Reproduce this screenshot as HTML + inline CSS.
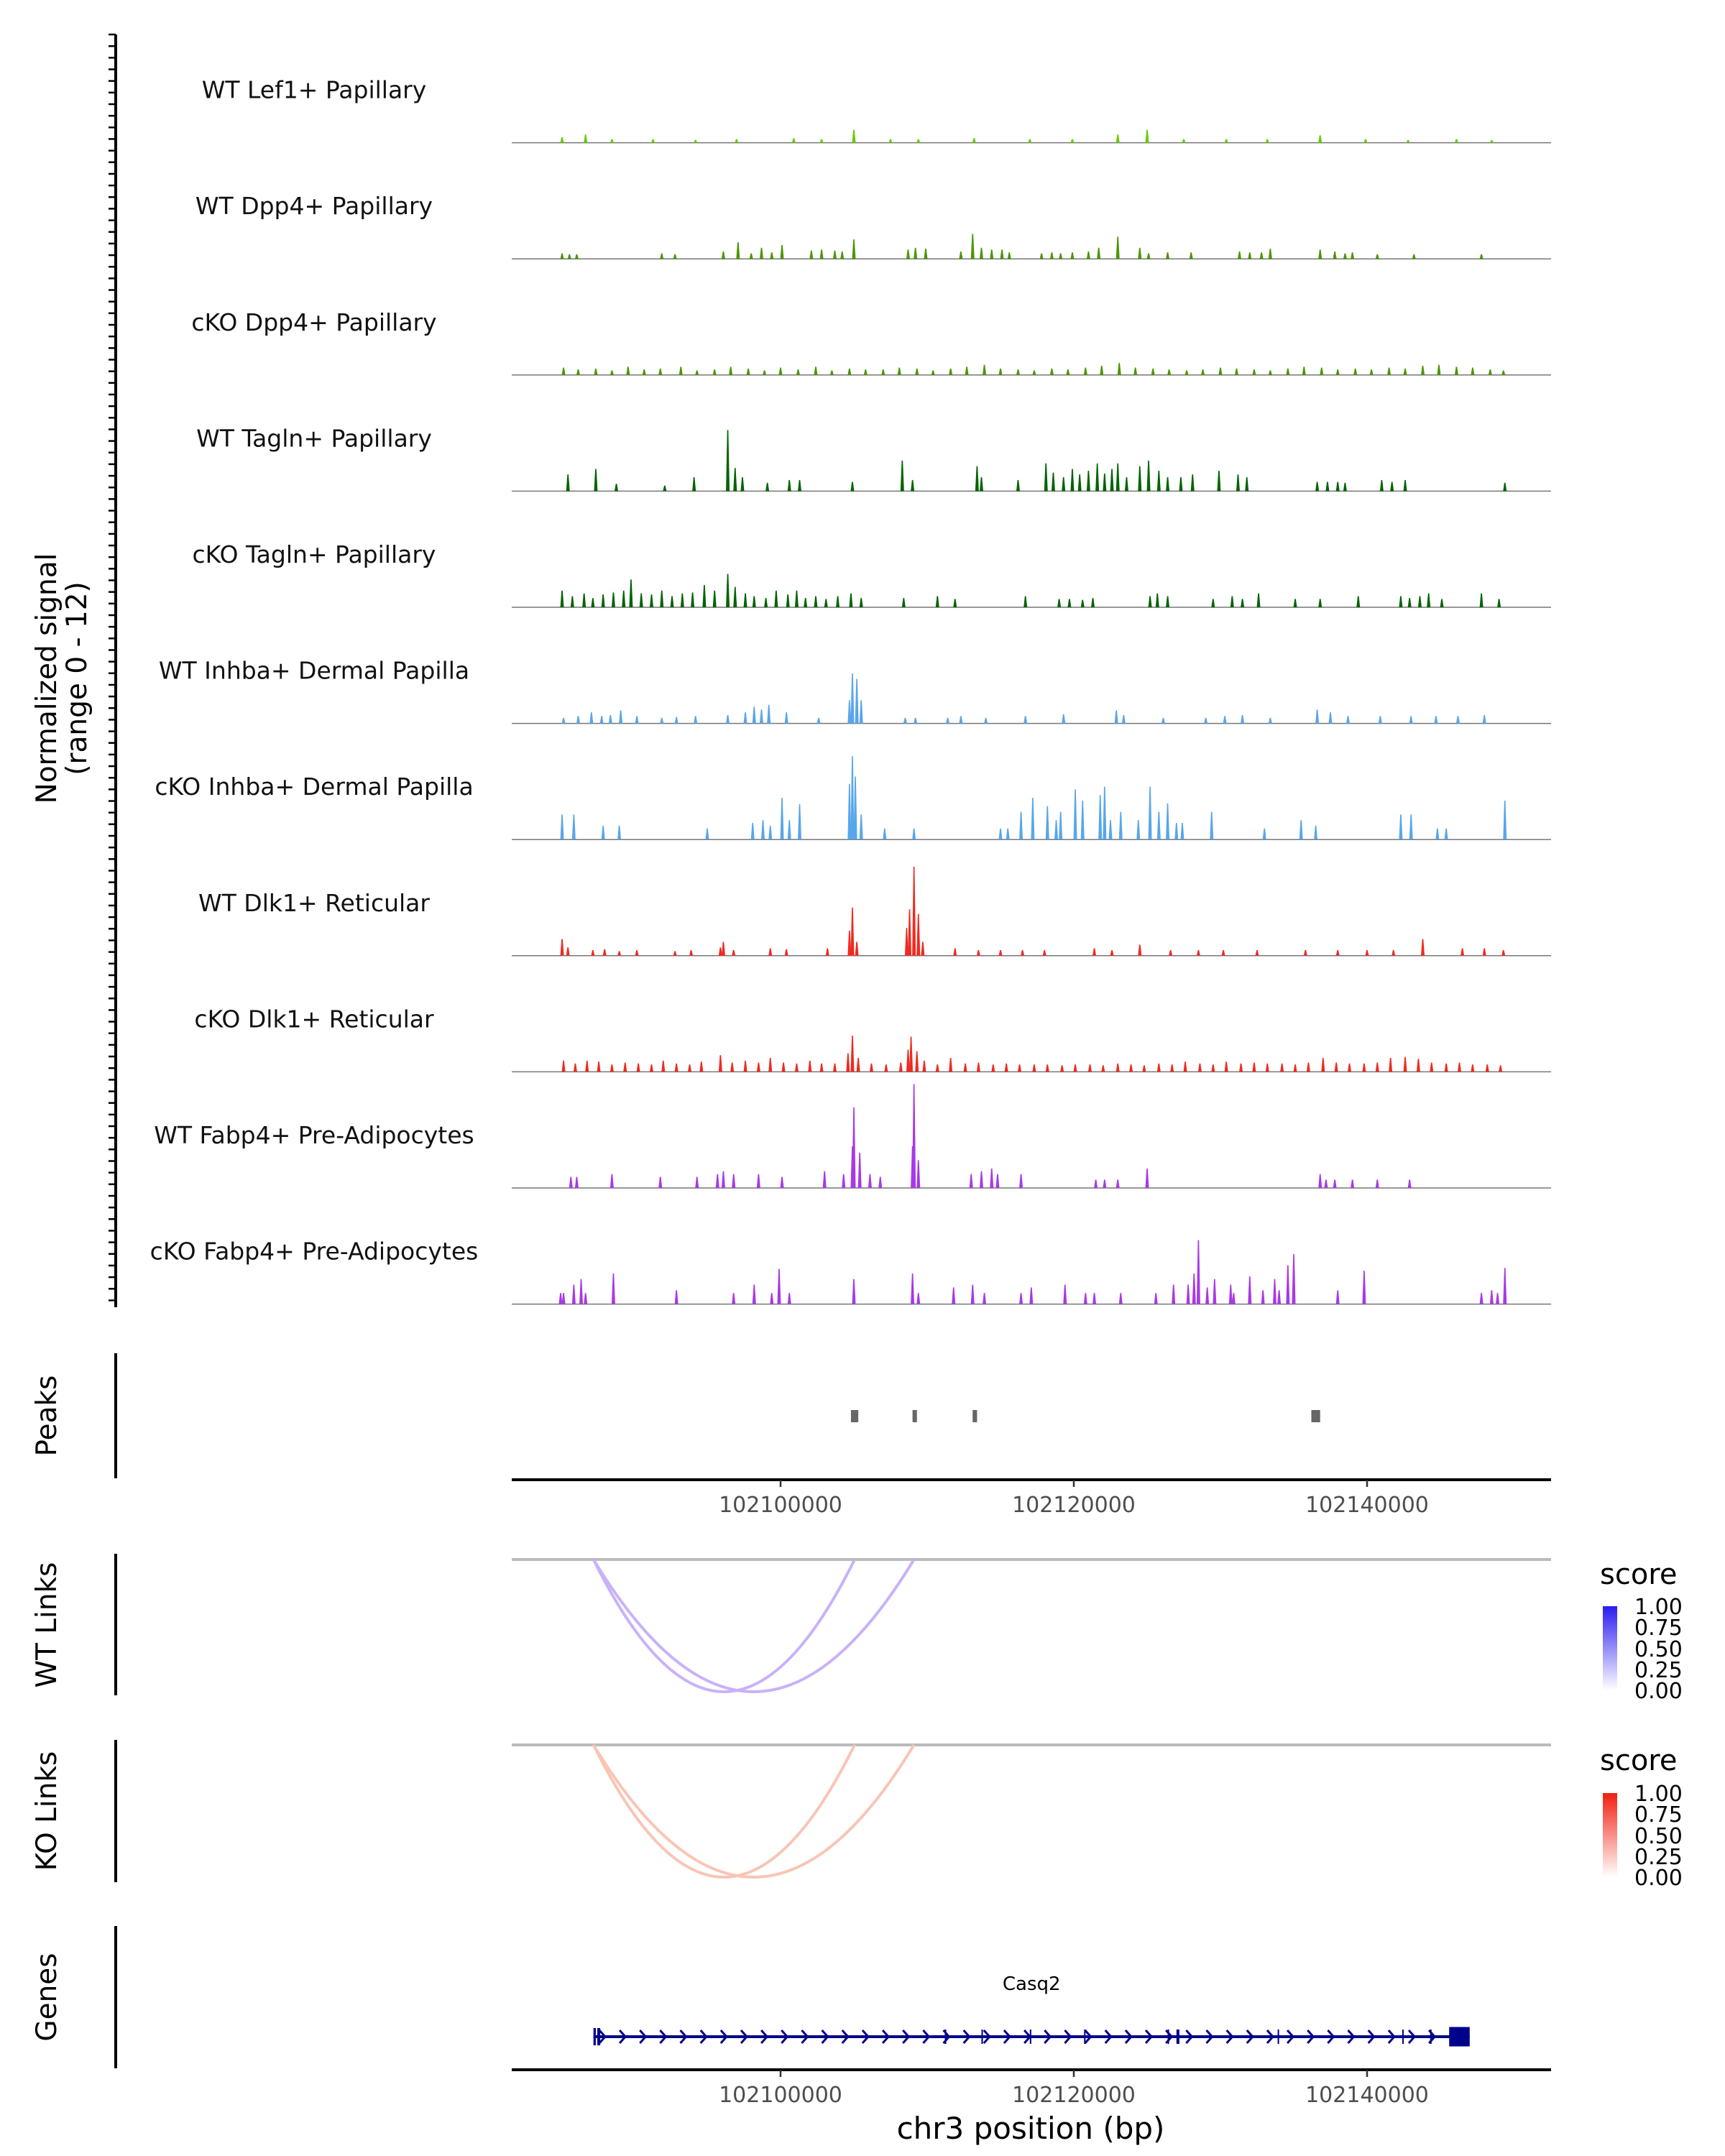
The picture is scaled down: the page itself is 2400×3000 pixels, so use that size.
<!DOCTYPE html>
<html><head><meta charset="utf-8"><title>Coverage plot</title>
<style>
html,body{margin:0;padding:0;background:#fff;}
svg{display:block;font-family:"DejaVu Sans","Liberation Sans",sans-serif;}
</style></head>
<body>
<svg id="chart" width="2400" height="3000" viewBox="0 0 2400 3000" xmlns="http://www.w3.org/2000/svg">
<rect width="2400" height="3000" fill="#fff"/>
<g id="signal"></g>
<g id="peaks"></g>
<g id="links"></g>
<g id="genes"></g>
<text transform="translate(78,944) rotate(-90)" text-anchor="middle" font-size="39" fill="#000">Normalized signal</text>
<text transform="translate(120,944) rotate(-90)" text-anchor="middle" font-size="39" fill="#000">(range 0 - 12)</text>
<text transform="translate(78,1970) rotate(-90)" text-anchor="middle" font-size="39">Peaks</text>
<text transform="translate(78,2261) rotate(-90)" text-anchor="middle" font-size="39">WT Links</text>
<text transform="translate(78,2520) rotate(-90)" text-anchor="middle" font-size="39">KO Links</text>
<text transform="translate(78,2779) rotate(-90)" text-anchor="middle" font-size="39">Genes</text>
<text x="1434" y="2976" text-anchor="middle" font-size="42">chr3 position (bp)</text>
<defs>
<linearGradient id="gWT" x1="0" y1="1" x2="0" y2="0"><stop offset="0" stop-color="#ffffff"/><stop offset="1" stop-color="#2a1cf0"/></linearGradient>
<linearGradient id="gKO" x1="0" y1="1" x2="0" y2="0"><stop offset="0" stop-color="#ffffff"/><stop offset="1" stop-color="#f02010"/></linearGradient>
</defs>
<g>
<text x="2226" y="2204" font-size="40">score</text>
<rect x="2230" y="2235" width="20" height="117" fill="url(#gWT)"/>
<g font-size="30"><text x="2274" y="2246">1.00</text><text x="2274" y="2275">0.75</text><text x="2274" y="2305">0.50</text><text x="2274" y="2334">0.25</text><text x="2274" y="2363">0.00</text></g>
</g>
<g>
<text x="2226" y="2463" font-size="40">score</text>
<rect x="2230" y="2495" width="20" height="117" fill="url(#gKO)"/>
<g font-size="30"><text x="2274" y="2506">1.00</text><text x="2274" y="2535">0.75</text><text x="2274" y="2565">0.50</text><text x="2274" y="2594">0.25</text><text x="2274" y="2623">0.00</text></g>
</g>
</svg>
<script>
// positions in kb offset from chr3:102080000, values in normalized signal units
const trackNames = ["WT Lef1+ Papillary","WT Dpp4+ Papillary","cKO Dpp4+ Papillary","WT Tagln+ Papillary","cKO Tagln+ Papillary","WT Inhba+ Dermal Papilla","cKO Inhba+ Dermal Papilla","WT Dlk1+ Reticular","cKO Dlk1+ Reticular","WT Fabp4+ Pre-Adipocytes","cKO Fabp4+ Pre-Adipocytes"];
const trackColors = ["#66cc00","#4a9600","#4a9600","#006400","#006400","#58a6ea","#58a6ea","#f02a20","#f02a20","#a838e8","#a838e8"];
const wtLef1 = [[5.1,0.6],[6.7,0.9],[8.5,0.4],[11.3,0.4],[14.2,0.3],[17.0,0.4],[20.9,0.5],[22.8,0.4],[25.0,1.4],[27.5,0.4],[29.4,0.4],[33.2,0.5],[37.0,0.4],[39.9,0.4],[43.0,0.9],[45.0,1.4],[47.5,0.4],[50.4,0.4],[53.2,0.4],[56.8,0.8],[59.9,0.4],[62.8,0.3],[66.1,0.4],[68.5,0.3]];
const wtDpp4 = [[5.1,0.6],[5.6,0.5],[6.1,0.5],[11.9,0.6],[12.8,0.5],[16.1,0.8],[17.1,1.8],[18.0,0.6],[18.7,1.2],[19.4,0.7],[20.1,1.5],[22.1,0.9],[22.8,1.0],[23.7,0.9],[24.2,0.8],[25.0,2.1],[28.7,1.0],[29.2,1.2],[29.9,1.1],[32.3,0.8],[33.1,2.7],[33.7,1.2],[34.4,1.0],[35.1,1.0],[35.6,0.7],[37.8,0.6],[38.5,0.7],[39.1,0.6],[39.9,0.7],[41.0,0.8],[41.7,1.2],[43.0,2.4],[44.5,1.2],[45.1,0.6],[46.4,0.7],[48.0,0.7],[51.3,0.8],[52.0,0.7],[52.8,0.7],[53.4,1.1],[56.8,1.0],[57.8,0.8],[58.5,0.6],[59.0,0.7],[60.7,0.5],[63.2,0.5],[67.8,0.5]];
const koDpp4 = [[5.2,0.8],[6.2,0.6],[7.4,0.7],[8.5,0.5],[9.6,0.9],[10.7,0.6],[11.8,0.7],[13.2,0.9],[14.3,0.5],[15.5,0.6],[16.6,0.9],[17.8,0.7],[18.9,0.5],[20.0,0.8],[21.2,0.6],[22.4,0.9],[23.5,0.5],[24.7,0.7],[25.8,0.6],[27.0,0.6],[28.1,0.8],[29.3,0.7],[30.4,0.5],[31.6,0.7],[32.7,0.9],[33.9,1.1],[35.0,0.7],[36.2,0.6],[37.3,0.5],[38.5,0.7],[39.6,0.6],[40.8,0.8],[41.9,1.0],[43.1,1.3],[44.2,0.8],[45.4,0.7],[46.5,0.6],[47.7,0.5],[48.8,0.6],[50.0,0.8],[51.1,0.7],[52.3,0.6],[53.4,0.5],[54.6,0.7],[55.7,0.9],[56.9,0.8],[58.0,0.6],[59.2,0.7],[60.3,0.6],[61.5,0.8],[62.6,0.7],[63.8,1.0],[64.9,1.1],[66.1,0.9],[67.2,0.8],[68.4,0.6],[69.3,0.5]];
const wtTagln = [[5.5,1.8],[7.4,2.4],[8.8,0.8],[12.1,0.6],[14.1,1.5],[16.4,6.6],[16.9,2.5],[17.4,1.5],[19.1,0.9],[20.6,1.2],[21.3,1.2],[24.9,1.0],[28.3,3.3],[29.0,1.2],[33.4,2.7],[33.7,1.5],[36.2,1.2],[38.1,3.0],[38.6,2.0],[39.3,1.5],[39.9,2.4],[40.4,1.8],[41.0,2.2],[41.6,3.0],[42.1,1.9],[42.6,2.4],[43.0,3.0],[43.6,1.5],[44.5,2.7],[45.1,3.3],[45.8,2.2],[46.4,1.5],[47.3,1.5],[48.1,1.8],[49.9,2.2],[51.2,1.8],[51.8,1.5],[56.6,1.0],[57.3,1.0],[58.0,1.0],[58.5,0.9],[61.0,1.2],[61.7,1.0],[62.6,1.2],[69.4,0.9]];
const koTagln = [[5.1,1.8],[5.8,1.2],[6.6,1.5],[7.2,1.0],[7.9,1.4],[8.6,1.6],[9.3,1.8],[9.8,3.0],[10.5,1.5],[11.2,1.4],[11.9,1.8],[12.6,1.2],[13.3,1.5],[14.0,1.6],[14.8,2.4],[15.5,1.8],[16.4,3.6],[16.9,2.2],[17.6,1.5],[18.2,1.2],[19.0,1.0],[19.7,1.8],[20.5,1.4],[21.1,1.8],[21.7,1.0],[22.4,1.2],[23.1,0.9],[23.9,1.2],[24.8,1.5],[25.5,1.0],[28.4,1.0],[30.7,1.2],[31.9,0.9],[36.7,1.2],[39.0,0.9],[39.7,0.9],[40.6,0.8],[41.3,1.0],[45.2,1.2],[45.7,1.5],[46.4,1.2],[49.5,0.9],[50.8,1.2],[51.5,0.9],[52.6,1.5],[55.1,0.9],[56.8,0.9],[59.4,1.2],[62.3,1.2],[62.9,1.0],[63.6,1.2],[64.2,1.5],[65.1,0.9],[67.8,1.5],[69.0,0.9]];
const wtInhba = [[5.2,0.6],[6.2,0.8],[7.1,1.2],[7.8,0.8],[8.4,0.9],[9.1,1.4],[10.2,0.8],[11.9,0.6],[12.9,0.7],[14.2,0.8],[16.4,0.9],[17.6,1.2],[18.2,1.8],[18.7,1.5],[19.2,2.0],[20.4,1.2],[22.6,0.6],[24.7,2.5],[24.9,5.4],[25.2,4.8],[25.5,2.5],[28.5,0.6],[29.2,0.6],[31.4,0.6],[32.3,0.8],[34.0,0.6],[36.7,0.8],[39.3,1.0],[42.9,1.4],[43.4,0.9],[46.1,0.6],[49.0,0.6],[50.3,0.8],[51.5,0.9],[53.4,0.6],[56.6,1.5],[57.5,1.2],[58.7,0.8],[60.9,0.8],[63.0,0.8],[64.7,0.8],[66.2,0.8],[68.0,0.9]];
const koInhba = [[5.1,2.7],[5.9,2.7],[7.9,1.5],[9.0,1.5],[15.0,1.2],[18.1,1.8],[18.8,2.1],[19.3,1.5],[20.1,4.5],[20.6,2.1],[21.3,3.8],[24.7,6.0],[24.9,9.0],[25.1,6.8],[25.5,2.7],[27.1,1.2],[29.1,1.2],[35.0,1.2],[35.5,1.2],[36.4,3.0],[37.2,4.5],[38.2,3.6],[38.8,2.1],[39.1,3.0],[40.1,5.4],[40.6,4.2],[41.8,4.8],[42.1,5.7],[42.5,2.1],[43.2,3.0],[44.4,2.1],[45.2,5.7],[45.8,3.0],[46.4,3.9],[47.0,1.8],[47.4,1.8],[49.4,3.0],[53.0,1.2],[55.5,2.1],[56.5,1.5],[62.3,2.7],[63.0,2.7],[64.8,1.2],[65.4,1.2],[69.4,4.2]];
const wtDlk1 = [[5.1,1.8],[5.5,0.9],[7.2,0.6],[8.0,0.7],[9.0,0.5],[10.2,0.6],[12.8,0.5],[13.9,0.6],[15.9,0.9],[16.1,1.5],[16.8,0.6],[19.3,0.8],[20.4,0.7],[23.2,0.8],[24.7,2.7],[24.9,5.2],[25.2,1.5],[28.6,3.0],[28.8,5.0],[29.1,9.6],[29.4,4.5],[29.7,1.5],[31.9,0.8],[33.5,0.6],[35.0,0.6],[36.5,0.6],[38.0,0.6],[41.4,0.8],[42.6,0.6],[44.5,1.2],[46.6,0.6],[48.5,0.6],[50.2,0.6],[52.5,0.6],[55.8,0.6],[58.0,0.6],[60.0,0.6],[61.8,0.6],[63.8,1.8],[66.5,0.8],[68.0,0.8],[69.3,0.6]];
const koDlk1 = [[5.2,1.2],[6.0,0.9],[6.8,1.2],[7.6,1.1],[8.5,0.8],[9.4,1.0],[10.3,0.9],[11.2,0.8],[12.0,1.2],[12.9,0.9],[13.8,0.8],[14.6,1.1],[15.9,1.8],[16.7,1.0],[17.6,1.2],[18.5,1.0],[19.3,1.5],[20.2,1.0],[21.1,0.9],[22.0,1.2],[22.8,0.9],[23.7,0.9],[24.6,2.0],[24.9,3.9],[25.3,1.5],[26.2,0.9],[27.2,0.8],[28.2,1.0],[28.7,2.4],[28.9,3.8],[29.3,2.2],[29.8,1.2],[30.7,0.8],[31.6,1.5],[32.6,0.9],[33.5,1.0],[34.5,0.8],[35.4,0.9],[36.3,0.8],[37.3,0.8],[38.2,0.8],[39.2,0.7],[40.1,0.8],[41.1,0.8],[42.0,0.7],[43.0,0.9],[43.9,0.8],[44.8,0.7],[45.8,0.9],[46.7,0.8],[47.6,1.1],[48.6,0.9],[49.5,0.8],[50.4,1.1],[51.4,0.9],[52.3,1.0],[53.2,0.9],[54.2,0.9],[55.1,0.8],[56.0,1.0],[57.0,1.5],[57.9,1.0],[58.8,0.9],[59.8,0.9],[60.7,1.0],[61.6,1.5],[62.6,1.6],[63.5,1.4],[64.4,1.0],[65.4,0.9],[66.3,1.0],[67.2,0.8],[68.2,0.8],[69.1,0.7]];
const wtFabp4 = [[5.7,1.2],[6.1,1.2],[8.5,1.5],[11.8,1.2],[14.3,1.2],[15.7,1.5],[16.1,1.8],[16.8,1.5],[18.5,1.5],[20.1,1.2],[23.0,1.8],[24.3,1.5],[24.9,4.5],[25.0,8.7],[25.4,3.8],[26.1,1.5],[26.8,1.2],[29.0,4.5],[29.1,11.2],[29.4,3.0],[33.0,1.5],[33.7,1.8],[34.4,2.1],[34.8,1.5],[36.4,1.5],[41.5,0.9],[42.1,0.9],[43.0,0.9],[45.0,2.1],[56.8,1.5],[57.2,0.9],[57.8,0.9],[59.0,0.9],[60.7,0.9],[62.9,0.9]];
const koFabp4 = [[5.0,1.2],[5.2,1.2],[5.9,2.1],[6.4,2.7],[6.7,1.2],[8.6,3.3],[12.9,1.5],[16.8,1.2],[18.2,2.1],[19.4,1.2],[19.9,3.8],[20.6,1.2],[25.0,2.7],[29.0,3.3],[29.4,1.2],[31.8,1.8],[33.1,2.1],[33.9,1.2],[36.4,1.2],[37.1,1.8],[39.4,2.1],[40.8,1.2],[41.4,1.2],[43.2,1.2],[45.6,1.2],[46.8,2.1],[47.8,2.1],[48.2,3.3],[48.5,6.9],[49.1,1.8],[49.6,2.7],[50.7,2.1],[50.9,1.2],[52.0,3.0],[52.9,1.5],[53.7,2.7],[54.0,1.5],[54.6,4.2],[55.0,5.4],[58.0,1.5],[59.8,3.6],[67.8,1.2],[68.5,1.5],[68.9,1.2],[69.4,3.9]];
const trackData = [wtLef1,wtDpp4,koDpp4,wtTagln,koTagln,wtInhba,koInhba,wtDlk1,koDlk1,wtFabp4,koFabp4];
const xTicks = [20,40,60];
const xTickLabels = ["102100000","102120000","102140000"];
const peakStarts = [24.8,29.0,33.1,56.2];
const peakEnds = [25.3,29.3,33.4,56.8];
const wtLinkStarts = [7.24,7.24];
const wtLinkEnds = [25.05,29.1];
const koLinkStarts = [7.24,7.24];
const koLinkEnds = [25.05,29.1];
const geneStart = 7.24, geneEnd = 67.0;
const exonStarts = [7.24,7.5,31.2,33.7,37.0,40.7,46.4,47.0,53.9,62.4,64.3,65.6];
const exonEnds = [7.4,7.7,31.3,33.8,37.1,40.8,46.5,47.2,54.0,62.5,64.4,67.0];

const NS = "http://www.w3.org/2000/svg";
const X0 = 712, X1 = 2158;
function xs(kb){ return 1086 + (kb - 20) * 20.4; }
const trackTop = 48, trackH = 161.6, unitPx = 12.9;
function mk(tag, attrs, parent){ const e = document.createElementNS(NS, tag); for (const k in attrs) e.setAttribute(k, attrs[k]); parent.appendChild(e); return e; }

const sig = document.getElementById("signal");
let ax = mk("line",{x1:161,y1:48,x2:161,y2:1819,stroke:"#000","stroke-width":4},sig);


for (let y = 48; y <= 1820; y += trackH/10){
  const t = mk("line",{x1:151,y1:y,x2:161,y2:y,stroke:"#000","stroke-width":2.5},sig);
  
  
}
trackNames.forEach((name,i)=>{
  const base = trackTop + trackH*(i+1) - 11;
  const g = mk("g",{},sig);
  
  
  const lab = mk("text",{x:437,y:base-62,"text-anchor":"middle","font-size":33,fill:"#111"},g);
  lab.textContent = name;
  
  
  const bl = mk("line",{x1:X0,y1:base,x2:X1,y2:base,stroke:"#777","stroke-width":1.5},g);
  
  
  trackData[i].forEach(([p,v])=>{
    const x = xs(p), h = v*unitPx;
    const s = mk("path",{d:`M${x-2.5},${base} L${x-0.8},${base-h} L${x+0.8},${base-h} L${x+2.5},${base} Z`,fill:trackColors[i]},g);
    
    
  });
});

const pk = document.getElementById("peaks");
let pa = mk("line",{x1:161,y1:1883,x2:161,y2:2057,stroke:"#000","stroke-width":4},pk);


peakStarts.forEach((s,i)=>{
  const x = xs(s), w = Math.max(5, xs(peakEnds[i]) - x);
  const r = mk("rect",{x:x,y:1962,width:w,height:17,fill:"#666"},pk);
  
  
});
function xAxis(parent, y, name){
  const l = mk("line",{x1:X0,y1:y,x2:X1,y2:y,stroke:"#000","stroke-width":4},parent);
  
  
  xTicks.forEach((t,i)=>{
    const tk = mk("line",{x1:xs(t),y1:y,x2:xs(t),y2:y+10,stroke:"#333","stroke-width":2.5},parent);
    
    
    const tl = mk("text",{x:xs(t),y:y+45,"text-anchor":"middle","font-size":30,fill:"#4d4d4d"},parent);
    tl.textContent = xTickLabels[i];
    
    
  });
}
xAxis(pk, 2059, 'peaks-x-axis');

const lk = document.getElementById("links");
function linkPanel(top, bottom, lineY, starts, ends, color, label){
  const a = mk("line",{x1:161,y1:top,x2:161,y2:bottom,stroke:"#000","stroke-width":4},lk);
  
  
  const gl = mk("line",{x1:X0,y1:lineY,x2:X1,y2:lineY,stroke:"#bbb","stroke-width":4},lk);
  
  
  const depth = 184;
  starts.forEach((s,i)=>{
    const x1 = xs(s), x2 = xs(ends[i]);
    const c = mk("path",{d:`M${x1},${lineY} Q${(x1+x2)/2},${lineY+depth*2} ${x2},${lineY}`,fill:"none",stroke:color,"stroke-width":4},lk);
    
    
  });
}
linkPanel(2162, 2359, 2170, wtLinkStarts, wtLinkEnds, "#c9b1f9", "wt-links");
linkPanel(2421, 2619, 2428, koLinkStarts, koLinkEnds, "#f9c5b5", "ko-links");

const gn = document.getElementById("genes");
let ga = mk("line",{x1:161,y1:2680,x2:161,y2:2878,stroke:"#000","stroke-width":4},gn);


const gy = 2834;
let gline = mk("line",{x1:xs(geneStart),y1:gy,x2:xs(geneEnd),y2:gy,stroke:"#00008b","stroke-width":4},gn);


for (let p = geneStart + 0.6; p < 65.3; p += 1.38){
  const x = xs(p);
  const ch = mk("path",{d:`M${x-4},${gy-9} L${x+4},${gy} L${x-4},${gy+9}`,fill:"none",stroke:"#00008b","stroke-width":3},gn);
  
  
}
exonStarts.forEach((s,i)=>{
  const x = xs(s), w = Math.max(2, xs(exonEnds[i]) - x);
  const big = (exonEnds[i]-s) > 0.5;
  const h = big ? 27 : (i<2 ? 24 : 20);
  const r = mk("rect",{x:x,y:gy-h/2,width:w,height:h,fill:"#00008b"},gn);
  
  
});
let gl2 = mk("text",{x:xs((geneStart+geneEnd)/2),y:2769,"text-anchor":"middle","font-size":26,fill:"#000"},gn);
gl2.textContent = "Casq2";


xAxis(gn, 2880, 'genes-x-axis');
</script>
</body></html>
